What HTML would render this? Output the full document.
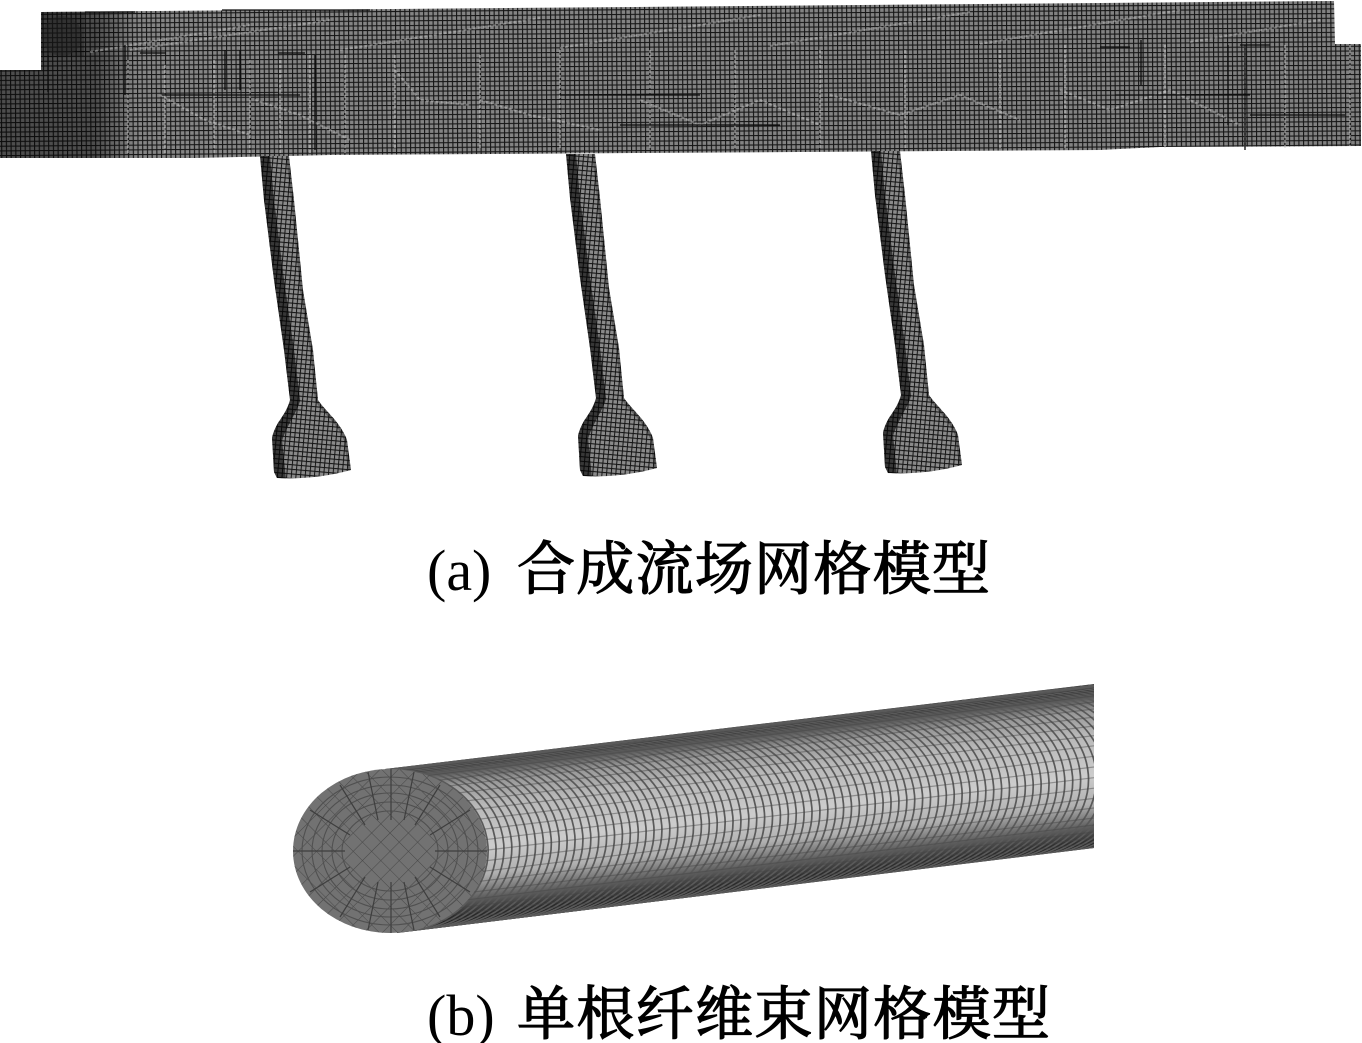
<!DOCTYPE html>
<html><head><meta charset="utf-8"><style>
html,body{margin:0;padding:0;background:#fff}
svg{display:block}
</style></head><body>
<svg width="1362" height="1043" viewBox="0 0 1362 1043" xmlns="http://www.w3.org/2000/svg">
<defs>
<pattern id="m" width="4.7" height="4.7" patternUnits="userSpaceOnUse" patternTransform="rotate(-0.45)">
<rect width="4.7" height="4.7" fill="#8c8c8c"/>
<path d="M0 0H4.7M0 0V4.7" stroke="#161616" stroke-width="2.2" fill="none"/>
</pattern>
<pattern id="s" width="4.6" height="4.6" patternUnits="userSpaceOnUse" patternTransform="rotate(5)">
<rect width="4.6" height="4.6" fill="#8a8a8a"/>
<path d="M0 0H4.6M0 0V4.6" stroke="#141414" stroke-width="2" fill="none"/>
</pattern>
<pattern id="d" width="13" height="13" patternUnits="userSpaceOnUse" patternTransform="translate(390 851) rotate(45)">
<path d="M0 0H13M0 0V13" stroke="#484848" stroke-width="1.1" fill="none"/>
</pattern>
<linearGradient id="ov" x1="0" y1="0" x2="1362" y2="0" gradientUnits="userSpaceOnUse">
<stop offset="0" stop-color="#000" stop-opacity=".45"/>
<stop offset=".07" stop-color="#000" stop-opacity=".45"/>
<stop offset=".1" stop-color="#000" stop-opacity=".05"/>
<stop offset="1" stop-color="#000" stop-opacity=".08"/>
</linearGradient>
<linearGradient id="cy" gradientUnits="userSpaceOnUse" x1="1000" y1="695" x2="1019" y2="859">
<stop offset="0" stop-color="#1c1c1c"/>
<stop offset=".06" stop-color="#4c4c4c"/>
<stop offset=".16" stop-color="#989898"/>
<stop offset=".3" stop-color="#b8b8b8"/>
<stop offset=".55" stop-color="#cccccc"/>
<stop offset=".72" stop-color="#b0b0b0"/>
<stop offset=".85" stop-color="#626262"/>
<stop offset=".95" stop-color="#2c2c2c"/>
<stop offset="1" stop-color="#141414"/>
</linearGradient>
<clipPath id="cb"><polygon points="385,769 1094,684 1094,848 397,933"/></clipPath>
<clipPath id="ce"><ellipse cx="390" cy="851" rx="97" ry="82"/></clipPath>
<path id="a1" d="M385 769A97 82 0 0 1 397 933" fill="none" stroke="#5a5a5a" stroke-width="1.7"/>
<g id="a2"><use href="#a1"/><use href="#a1" transform="translate(7.9 -.94)"/></g>
<g id="a4"><use href="#a2"/><use href="#a2" transform="translate(15.8 -1.88)"/></g>
<g id="a8"><use href="#a4"/><use href="#a4" transform="translate(31.6 -3.76)"/></g>
<g id="a16"><use href="#a8"/><use href="#a8" transform="translate(63.2 -7.52)"/></g>
<g id="a32"><use href="#a16"/><use href="#a16" transform="translate(126.4 -15.04)"/></g>
<g id="a64"><use href="#a32"/><use href="#a32" transform="translate(252.8 -30.08)"/></g>
<path id="sp" d="M260 156L289 156L294 200L303 290L313 350L318 400C322 406 330 414 335 420C340 426 345 434 347 440L351 470Q315 480 277 478L274 472L272 438C273 432 277 424 280 420C284 414 288 408 290 400L284 350L274 280L264 200Z"/>
<clipPath id="sc"><use href="#sp"/></clipPath>
<g id="stem">
<use href="#sp" fill="url(#s)"/>
<g clip-path="url(#sc)" fill="none" stroke="#000">
<path d="M262 156L266 200L276 280L286 350L292 400C288 412 278 424 274 440L278 480" stroke-opacity=".6" stroke-width="16"/>
<path d="M289 156L294 200L303 290L313 350L318 400C322 406 330 414 335 420C340 426 345 434 347 440L351 470" stroke-opacity=".3" stroke-width="6"/>
</g>
</g>
</defs>

<!-- top mesh block -->
<polygon points="41,12 1334,1 1335,44 1361,44 1361,146 1160,147 1100,150 330,155 195,158 0,158 0,70 41,70" fill="url(#m)"/>
<polygon points="41,12 1334,1 1335,44 1361,44 1361,146 1160,147 1100,150 330,155 195,158 0,158 0,70 41,70" fill="url(#ov)"/>
<circle cx="62" cy="36" r="20" fill="#2a2a2a" opacity=".4"/>
<rect x="41" y="12" width="43" height="44" fill="#000" opacity=".2"/>
<g fill="none" stroke="#d0d0d0" stroke-opacity=".45" stroke-width="2" stroke-dasharray="3 2">
<path d="M128 60V155M165 65V155M214 60V155M250 60V155M280 60V155M310 55V155M345 55V155M395 55V150M480 55V150M560 50V150M650 50V150M735 50V150M820 50V150M905 50V150M1000 50V150M1065 45V150M1165 45V148M1245 45V148M1285 45V148M1350 45V146"/>
<path d="M160 95L205 120L250 135M255 100L300 115L350 140M395 70L420 100L470 105M480 100L530 115L600 130M640 100L700 125L760 100L820 125M830 95L900 115L960 95L1020 120M1060 90L1110 110L1170 90L1240 125"/>
<path d="M90 52L250 25M130 50L330 20M340 50L540 18M560 48L760 15M770 46L970 12M980 44L1180 10M1190 42L1320 20" stroke-opacity=".4"/>
</g>
<g fill="none" stroke="#0c0c0c" stroke-width="1.3">
<path d="M162 95H300M140 53H166M278 53H305M560 95H700M620 125H780M1115 95H1250M1250 115H1345M1100 47H1130M1240 45H1270M85 12H135M222 10H370"/>
<path d="M48 55V92M125 45V95M225 50V90M240 50V90M315 55V150M1141 40V85M1228 45V125M1245 45V150"/>
</g>

<!-- stems -->
<use href="#stem"/>
<use href="#stem" transform="translate(306 -2)"/>
<use href="#stem" transform="translate(611 -5)"/>

<!-- fibre -->
<polygon points="385,769 1094,684 1094,848 397,933" fill="url(#cy)"/>
<g clip-path="url(#cb)">
<use href="#a64"/>
<use href="#a32" transform="translate(505.6 -60.16)"/>
<path fill="none" stroke="#444" stroke-opacity=".45" stroke-width="1.2" d="M390 771.8l704-84M390 775.2l704-84M390 780l704-84M390 786l704-84M390 793l704-84M390 801.1l704-84M390 810l704-84M390 819.6l704-84M390 829.8l704-84M390 840.3l704-84M390 851l704-84M390 861.7l704-84M390 872.2l704-84M390 882.4l704-84M390 892l704-84M390 902l704-84M390 909l704-84M390 916l704-84M390 922l704-84M390 926.8l704-84"/>
</g>
<ellipse cx="390" cy="851" rx="97" ry="82" fill="#727272"/>
<g clip-path="url(#ce)">
<rect x="293" y="769" width="194" height="164" fill="url(#d)"/>
<g fill="none" stroke="#505050" stroke-width="1.1">
<ellipse cx="390" cy="851" rx="88" ry="74"/>
<ellipse cx="390" cy="851" rx="78" ry="66"/>
<ellipse cx="390" cy="851" rx="68" ry="58"/>
<ellipse cx="390" cy="851" rx="58" ry="49"/>
<ellipse cx="390" cy="851" rx="48" ry="40"/>
</g>
<path fill="none" stroke="#3e3e3e" stroke-width="1.2" d="M391 769V820M391 882V933M293 851H345M435 851H487M368 772L378 820M414 772L404 820M368 930L378 882M414 930L404 882M340 785L365 825M440 785L415 825M340 917L365 877M440 917L415 877M310 810L350 835M470 810L430 835M310 892L350 867M470 892L430 867"/>
</g>

<!-- captions -->
<g font-size="58" fill="#000">
<text x="427" y="590" font-family="'Liberation Serif',serif">(a)</text>
<text x="517" y="589" stroke="#000" stroke-width="1.3" font-family="'Noto Serif CJK SC','Liberation Serif',serif" textLength="473" lengthAdjust="spacing">合成流场网格模型</text>
<text x="427" y="1035" font-family="'Liberation Serif',serif">(b)</text>
<text x="517" y="1034" stroke="#000" stroke-width="1.3" font-family="'Noto Serif CJK SC','Liberation Serif',serif" textLength="533" lengthAdjust="spacing">单根纤维束网格模型</text>
</g>
</svg>
</body></html>
